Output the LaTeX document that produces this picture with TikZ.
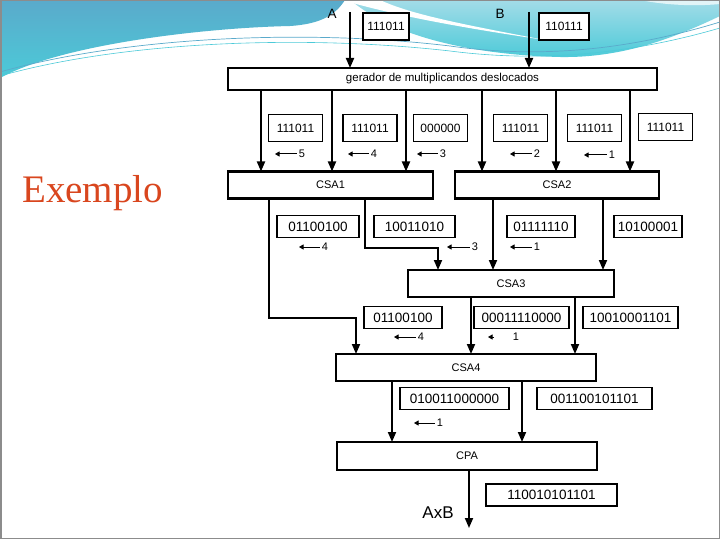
\documentclass[tikz,border=0pt]{standalone}
\usepackage{fontspec}
\setmainfont{Liberation Sans}
\newfontfamily\titlefont{Liberation Serif}
\usetikzlibrary{arrows.meta}
\definecolor{WaveDark}{HTML}{5AAACB}
\definecolor{WaveCyan}{HTML}{4CCAD8}
\definecolor{WaveLight}{HTML}{A3DCE8}
\definecolor{TitleRed}{HTML}{D9461E}
\definecolor{FrameGray}{HTML}{8C8C8C}

\begin{document}
\begin{tikzpicture}[
  x=1pt, y=-1pt,
  block/.style={draw, line width=2.4pt, fill=white, minimum height=27pt, inner sep=0pt, outer sep=0pt, font=\fontsize{11}{13}\selectfont},
  numbox/.style={draw, line width=1.3pt, fill=white, minimum height=22pt, inner sep=0pt, outer sep=0pt, font=\fontsize{13.5}{15}\selectfont},
  topbox/.style={numbox, minimum height=27pt, font=\fontsize{12}{14}\selectfont},
  bus/.style={-{Triangle[length=10pt, width=8pt]}, line width=1.8pt},
  shiftarr/.style={-{Triangle[length=4.5pt, width=5pt]}, line width=1pt, shorten <=2pt},
  shiftnum/.style={inner sep=0pt, font=\fontsize{11}{13}\selectfont}
]
% slide background
\fill[white] (0,0) rectangle (720,540);
\useasboundingbox (0,0) rectangle (720,540);
\shade[top color=WaveDark, bottom color=WaveCyan]
  (0,0) -- (345,0) .. controls (336,14) and (322,24) .. (290,26)
  .. controls (200,28) and (60,45) .. (0,78) -- cycle;
\shade[top color=WaveLight, bottom color=WaveCyan]
  (350,0) -- (720,0) -- (720,16) .. controls (670,40) and (620,58) .. (560,57)
  .. controls (480,55) and (420,40) .. (385,22) .. controls (366,12) .. (350,0) -- cycle;
\fill[white] (342,0) .. controls (390,14) and (450,26) .. (545,40)
  .. controls (460,24) and (410,14) .. (380,0) -- cycle;
\fill[white, opacity=0.7] (640,0) .. controls (670,6) and (700,6) .. (720,4) -- (720,0) -- cycle;
\draw[WaveDark, line width=0.7pt] (0,72) .. controls (120,38) and (300,28) .. (450,46)
  .. controls (520,56) and (610,56) .. (720,22);
\draw[WaveCyan, line width=0.6pt] (0,76) .. controls (120,42) and (300,34) .. (450,51)
  .. controls (520,60) and (610,60) .. (720,28);
\draw[FrameGray, line width=1.5pt] (0.75,0.75) rectangle (719.25,538.5);

\node[anchor=base west, inner sep=0pt, text=TitleRed, font=\titlefont\fontsize{39}{44}\selectfont] (title) at (22,203) {Exemplo};

% blocks
\node[block, minimum width=429pt, minimum height=22pt, font=\fontsize{11.5}{13}\selectfont] (gen) at (442.5,79) {gerador de multiplicandos deslocados};
\node[block, minimum width=205pt] (csa1) at (330.5,185) {CSA1};
\node[block, minimum width=204pt] (csa2) at (557,185) {CSA2};
\node[block, minimum width=206pt] (csa3) at (511,283.5) {CSA3};
\node[block, minimum width=260pt] (csa4) at (466,367.5) {CSA4};
\node[block, minimum width=260pt, minimum height=28pt] (cpa) at (467,456) {CPA};

% operands
\node[inner sep=0pt, font=\fontsize{13.5}{15}\selectfont] (la) at (332,14) {A};
\node[inner sep=0pt, font=\fontsize{13.5}{15}\selectfont] (lb) at (500,14) {B};
\coordinate (ain) at (350,12);
\coordinate (bin) at (529,12);
\node[topbox, minimum width=46pt] (na) at (386,26.5) {111011};
\node[topbox, minimum width=50pt] (nb) at (564,26.5) {110111};
\draw[bus] (ain) -- ([xshift=122pt]gen.north west);
\draw[bus] (bin) -- ([xshift=301pt]gen.north west);

% shifted multiplicands
\draw[bus] ([xshift=33pt]gen.south west) -- ([xshift=33pt]csa1.north west);
\draw[bus] ([xshift=104pt]gen.south west) -- ([xshift=104pt]csa1.north west);
\draw[bus] ([xshift=178pt]gen.south west) -- ([xshift=178pt]csa1.north west);
\draw[bus] ([xshift=254pt]gen.south west) -- ([xshift=27pt]csa2.north west);
\draw[bus] ([xshift=328pt]gen.south west) -- ([xshift=101pt]csa2.north west);
\draw[bus] ([xshift=402pt]gen.south west) -- ([xshift=175pt]csa2.north west);
\node[topbox, minimum width=54pt] (p1) at (295.5,128) {111011};
\node[topbox, minimum width=54pt] (p2) at (370,128) {111011};
\node[topbox, minimum width=54pt] (p3) at (440.5,128) {000000};
\node[topbox, minimum width=54pt] (p4) at (520.5,128) {111011};
\node[topbox, minimum width=54pt] (p5) at (594.5,128) {111011};
\node[topbox, minimum width=54pt] (p6) at (665.5,127) {111011};
\node[shiftnum] (r1s5) at (302,154) {5};
\node[shiftnum] (r1s4) at (374,154) {4};
\node[shiftnum] (r1s3) at (443,154) {3};
\node[shiftnum] (r1s2) at (537,154) {2};
\node[shiftnum] (r1s1) at (612,155) {1};
\coordinate (r1t5) at (275,154);
\coordinate (r1t4) at (348,154);
\coordinate (r1t3) at (417,154);
\coordinate (r1t2) at (510,154);
\coordinate (r1t1) at (584,155);
\draw[shiftarr] (r1s5.west) -- (r1t5);
\draw[shiftarr] (r1s4.west) -- (r1t4);
\draw[shiftarr] (r1s3.west) -- (r1t3);
\draw[shiftarr] (r1s2.west) -- (r1t2);
\draw[shiftarr] (r1s1.west) -- (r1t1);

% first level outputs
\coordinate (k1) at (400,248);
\coordinate (k2) at (310,318);
\draw[bus] ([xshift=41pt]csa1.south west) |- (k2) -| ([xshift=20pt]csa4.north west);
\draw[bus] ([xshift=137pt]csa1.south west) |- (k1) -| ([xshift=30pt]csa3.north west);
\draw[bus] ([xshift=38pt]csa2.south west) -- ([xshift=85pt]csa3.north west);
\draw[bus] ([xshift=148pt]csa2.south west) -- ([xshift=195pt]csa3.north west);
\node[numbox, minimum width=82pt] (q1) at (318,226.5) {01100100};
\node[numbox, minimum width=81pt] (q2) at (414.5,226.5) {10011010};
\node[numbox, minimum width=68pt] (q3) at (541,226.5) {01111110};
\node[numbox, minimum width=68pt] (q4) at (648,226.5) {10100001};
\node[shiftnum] (r2s4) at (325,247) {4};
\node[shiftnum] (r2s3) at (475,247) {3};
\node[shiftnum] (r2s1) at (537,247) {1};
\coordinate (r2t4) at (299,247);
\coordinate (r2t3) at (447,247);
\coordinate (r2t1) at (510,247);
\draw[shiftarr] (r2s4.west) -- (r2t4);
\draw[shiftarr] (r2s3.west) -- (r2t3);
\draw[shiftarr] (r2s1.west) -- (r2t1);

% second level outputs
\draw[bus] ([xshift=63pt]csa3.south west) -- ([xshift=135pt]csa4.north west);
\draw[bus] ([xshift=167pt]csa3.south west) -- ([xshift=239pt]csa4.north west);
\node[numbox, minimum width=78pt] (u1) at (403,317.5) {01100100};
\node[numbox, minimum width=95pt] (u2) at (521.5,317.5) {00011110000};
\node[numbox, minimum width=95pt] (u3) at (630.5,317.5) {10010001101};
\node[shiftnum] (r3s4) at (421,337) {4};
\node[shiftnum] (r3s1) at (516,337) {1};
\coordinate (r3t4) at (394,337);
\coordinate (r3h1) at (496,337);
\coordinate (r3t1) at (488,337);
\draw[shiftarr] (r3s4.west) -- (r3t4);
\draw[shiftarr] (r3h1) -- (r3t1);

% third level outputs
\draw[bus] ([xshift=56pt]csa4.south west) -- ([xshift=55pt]cpa.north west);
\draw[bus] ([xshift=186pt]csa4.south west) -- ([xshift=185pt]cpa.north west);
\node[numbox, minimum width=109pt] (v1) at (454.5,398.5) {010011000000};
\node[numbox, minimum width=115pt] (v2) at (594.5,398.5) {001100101101};
\node[shiftnum] (r4s1) at (440,423) {1};
\coordinate (r4t1) at (414,423);
\draw[shiftarr] (r4s1.west) -- (r4t1);

% product
\coordinate (res) at (469,528);
\draw[bus] ([xshift=132pt]cpa.south west) -- (res);
\node[inner sep=0pt, font=\fontsize{17}{20}\selectfont] (lab) at (438,513) {AxB};
\node[numbox, minimum width=131pt] (prod) at (551.5,495) {110010101101};
\end{tikzpicture}
\end{document}
